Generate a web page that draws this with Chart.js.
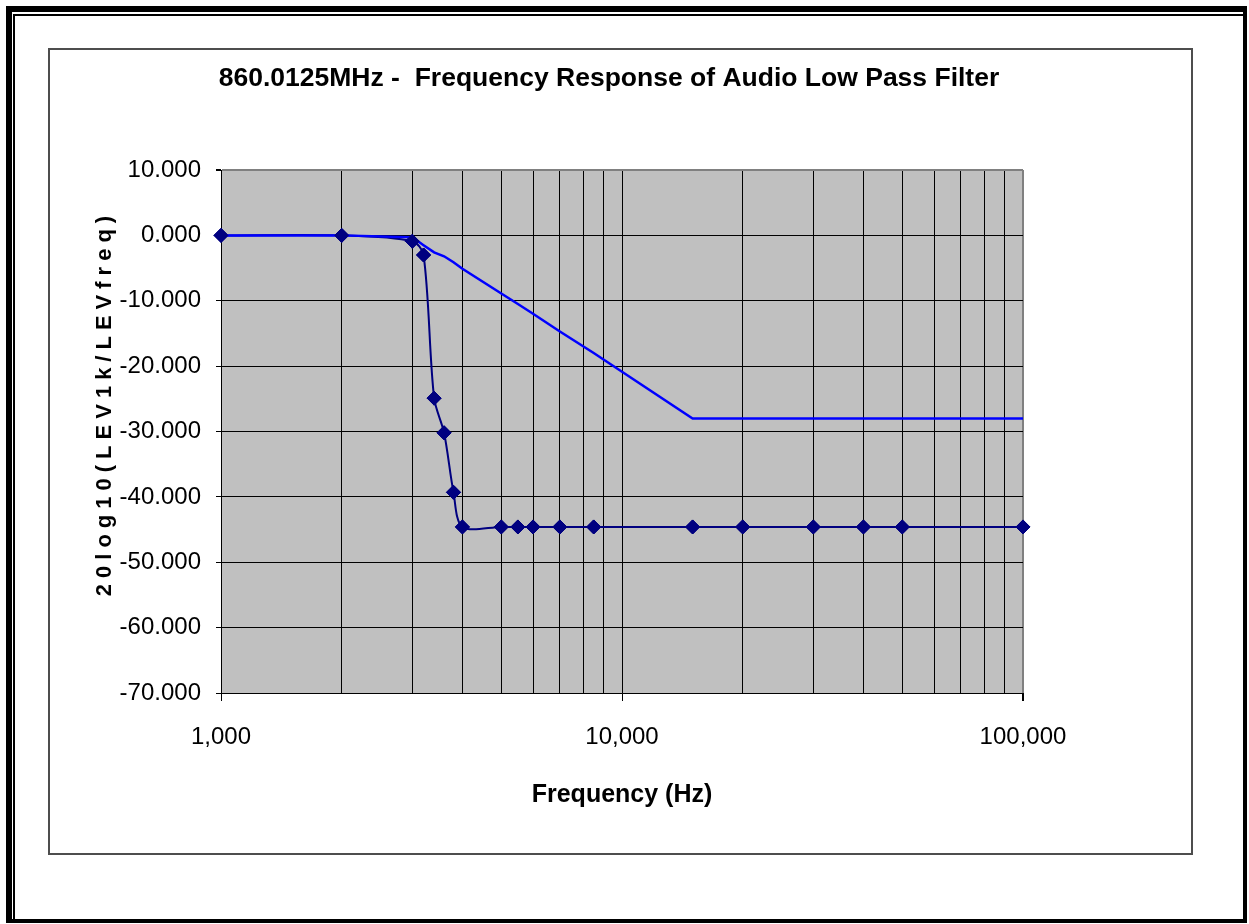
<!DOCTYPE html>
<html>
<head>
<meta charset="utf-8">
<title>860.0125MHz - Audio Low Pass Filter</title>
<script src="https://cdn.jsdelivr.net/npm/chart.js@4.4.1/dist/chart.umd.min.js"></script>
<style>
  html, body { margin: 0; padding: 0; background: #fff; width: 1249px; height: 924px; overflow: hidden; }
  .frame {
    position: absolute; left: 6px; top: 6px; width: 1241px; height: 917px; box-sizing: border-box;
    border-style: solid; border-color: #000; border-width: 6px 4px 4px 6px;
  }
  .frame-inner {
    position: absolute; left: 13px; top: 14px; width: 1230px; height: 905px; box-sizing: border-box;
    border-left: 2px solid #000; border-top: 2px solid #000;
  }
  .chart-box {
    position: absolute; left: 48px; top: 48px; width: 1145px; height: 807px; box-sizing: border-box;
    border: 2px solid #4d4d4d; background: #fff;
  }
  canvas { display: block; }
</style>
</head>
<body>
<div class="frame"></div>
<div class="frame-inner"></div>
<div class="chart-box">
  <canvas id="lpfChart" width="1141" height="803"></canvas>
</div>

<script>
/* ---------- data ---------- */

// test frequencies (Hz)
const freqHz = [1000, 2000, 3000, 3200, 3400, 3600, 3800, 4000, 5000, 5500,
                6000, 7000, 8500, 15000, 20000, 30000, 40000, 50000, 100000];

// measured response, 20log10(LEV1k/LEVfreq) in dB
const measuredDb = [0.0, 0.0, -0.9, -3.0, -24.9, -30.2, -39.3, -44.6, -44.6, -44.6,
                    -44.6, -44.6, -44.6, -44.6, -44.6, -44.6, -44.6, -44.6, -44.6];

// limit line (no markers)
const limitDb = [0.0, 0.0, -0.3, -1.5, -2.6, -3.2, -4.1, -5.1, -8.9, -10.5,
                 -12.0, -14.7, -18.0, -28.0, -28.0, -28.0, -28.0, -28.0, -28.0];

// vertical grid lines on the log axis, and the ones that get a label
const freqGrid = [1000, 2000, 3000, 4000, 5000, 6000, 7000, 8000, 9000,
                  10000, 20000, 30000, 40000, 50000, 60000, 70000, 80000, 90000, 100000];
const freqLabels = [1000, 10000, 100000];

const chartTitle = "860.0125MHz -  Frequency Response of Audio Low Pass Filter";
const xTitle = "Frequency (Hz)";
const yTitle = "20log10(LEV1k/LEVfreq)";

const toPoints = (ys) => freqHz.map((f, i) => ({ x: f, y: ys[i] }));

const FONT = "'Liberation Sans', Arial, sans-serif";

/* ---------- plugins ---------- */

// grey plot area
const plotBackground = {
  id: "plotBackground",
  beforeDraw(chart) {
    const { ctx, chartArea: a } = chart;
    ctx.save();
    ctx.fillStyle = "#c0c0c0";
    ctx.fillRect(a.left, a.top, a.right - a.left, a.bottom - a.top);
    ctx.restore();
  }
};

// main title, sits a little left of the plot centre
const titleText = {
  id: "titleText",
  afterDraw(chart) {
    const { ctx } = chart;
    ctx.save();
    ctx.font = "bold 26.5px " + FONT;
    ctx.fillStyle = "#000";
    ctx.textAlign = "center";
    ctx.textBaseline = "middle";
    ctx.fillText(chartTitle, 559, 29);
    ctx.restore();
  }
};

// rotated y title with letter spacing
const yAxisTitle = {
  id: "yAxisTitle",
  afterDraw(chart) {
    const { ctx } = chart;
    ctx.save();
    ctx.translate(55, 356);
    ctx.rotate(-Math.PI / 2);
    ctx.font = "bold 22px " + FONT;
    ctx.letterSpacing = "6px";
    ctx.fillStyle = "#000";
    ctx.textAlign = "center";
    ctx.textBaseline = "middle";
    ctx.fillText(yTitle, 3, 0);
    ctx.restore();
  }
};

// keep the diamonds above the limit line
const markersOnTop = {
  id: "markersOnTop",
  afterDatasetsDraw(chart) {
    const meta = chart.getDatasetMeta(0);
    meta.data.forEach(pt => pt.draw(chart.ctx, chart.chartArea));
  }
};

/* ---------- chart ---------- */

Chart.defaults.font.family = FONT;
Chart.defaults.color = "#000";

new Chart(document.getElementById("lpfChart"), {
  type: "line",
  data: {
    datasets: [
      {
        label: "Measured",
        data: toPoints(measuredDb),
        borderColor: "#000080",
        backgroundColor: "#000080",
        borderWidth: 2,
        pointStyle: "rectRot",
        pointRadius: 7,
        pointBorderWidth: 1,
        pointBackgroundColor: "#000080",
        pointBorderColor: "#000080",
        tension: 0.3,
        order: 1,
        clip: false
      },
      {
        label: "Limit",
        data: toPoints(limitDb),
        borderColor: "#0000ff",
        borderWidth: 2.5,
        pointRadius: 0,
        tension: 0,
        order: 0,
        clip: false
      }
    ]
  },
  options: {
    responsive: false,
    animation: false,
    layout: { padding: { left: 0, right: 168, top: 120, bottom: 0 } },
    plugins: {
      legend: { display: false },
      tooltip: { enabled: false },
      title: { display: false }
    },
    scales: {
      x: {
        type: "logarithmic",
        min: 1000,
        max: 100000,
        afterBuildTicks: (s) => { s.ticks = freqGrid.map(v => ({ value: v })); },
        afterFit: (s) => { s.height = 160; },
        ticks: {
          autoSkip: false,
          maxRotation: 0,
          padding: 22,
          font: { size: 24 },
          callback: (v) => freqLabels.includes(v) ? v.toLocaleString("en-US") : ""
        },
        grid: {
          color: (c) => c.tick && c.tick.value === 100000 ? "#808080" : "#000",
          lineWidth: (c) => c.tick && c.tick.value === 100000 ? 2 : 1,
          tickLength: 8,
          tickColor: (c) => c.tick && freqLabels.includes(c.tick.value) ? "#000" : "rgba(0,0,0,0)"
        },
        border: { color: "#000", width: 1 },
        title: {
          display: true,
          text: xTitle,
          font: { size: 25, weight: "bold" },
          padding: { top: 0, bottom: 43 }
        }
      },
      y: {
        min: -70,
        max: 10,
        afterFit: (s) => { s.width = 171; },
        ticks: {
          stepSize: 10,
          padding: 15,
          font: { size: 24 },
          callback: (v) => v.toFixed(3)
        },
        grid: {
          color: (c) => c.tick && c.tick.value === 10 ? "#808080" : "#000",
          lineWidth: (c) => c.tick && c.tick.value === 10 ? 2 : 1,
          tickLength: 5,
          tickColor: "#000"
        },
        border: { color: "#000", width: 1 }
      }
    }
  },
  plugins: [plotBackground, titleText, yAxisTitle, markersOnTop]
});
</script>
</body>
</html>
